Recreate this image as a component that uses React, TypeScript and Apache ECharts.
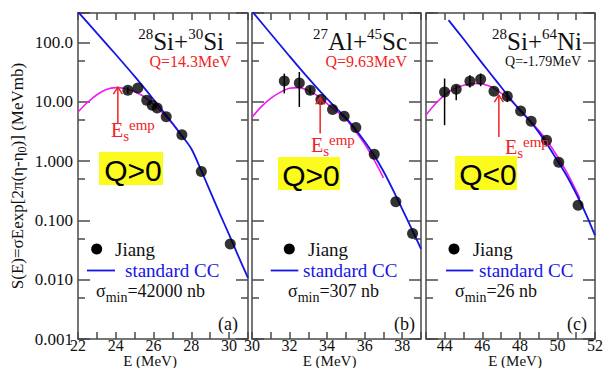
import React, { useEffect, useRef } from "react";
import * as echarts from "echarts";

// ---- panel (a): 28Si + 30Si ----
const rangeA = [22, 31];
const jiangA: [number, number][] = [
  [24.64, 15.7], [25.17, 17.2], [25.64, 10.7], [25.93, 8.8], [26.19, 7.9],
  [26.67, 5.6], [27.5, 2.78], [28.53, 0.67], [30.06, 0.04],
];
const errA: [number, number, number][] = [[24.64, 13.8, 17.6]];
const ccA: [number, number][] = [
  [22, 331], [23, 144.5], [24, 63.1], [25, 26.9], [26, 11.0], [27, 4.37],
  [27.5, 2.69], [28, 1.62], [28.5, 0.724], [29, 0.309], [29.5, 0.132],
  [30, 0.0575], [30.5, 0.0245], [31, 0.0107],
];
const fitA: [number, number][] = [
  [22, 6.76], [22.5, 9.77], [23, 13.2], [23.5, 16.2], [24, 17.4], [24.5, 16.8],
  [25, 14.8], [25.5, 12.2], [26, 9.1], [26.5, 6.46], [27, 4.27], [27.5, 2.63],
];
const arrowA: [number, number, number] = [24.11, 17.7, 4.37];

// ---- panel (b): 27Al + 45Sc ----
const rangeB = [30, 39];
const jiangB: [number, number][] = [
  [31.72, 22.6], [32.52, 20.9], [33.1, 15.7], [33.67, 11.0], [34.29, 7.45],
  [34.91, 5.74], [35.53, 3.7], [36.51, 1.31], [37.66, 0.206], [38.55, 0.06],
];
const errB: [number, number, number][] = [
  [31.72, 13.9, 30.0], [32.52, 8.2, 32.0], [33.1, 13.5, 18.0],
];
const ccB: [number, number][] = [
  [30, 339], [31, 141], [32, 58.9], [33, 25.1], [34, 11.2], [35, 5.37],
  [35.5, 3.47], [36, 2.14], [36.5, 1.26], [37, 0.676], [37.5, 0.331],
  [38, 0.155], [38.5, 0.0724], [39, 0.0331],
];
const fitB: [number, number][] = [
  [30, 5.5], [30.5, 8.32], [31, 11.5], [31.5, 14.5], [32, 17.0], [32.5, 17.4],
  [33, 15.5], [33.5, 12.6], [34, 9.33], [34.5, 6.92], [35, 5.13], [35.5, 3.24],
  [36, 1.95], [36.5, 1.05], [37, 0.525],
];
const arrowB: [number, number, number] = [33.63, 11.9, 2.93];

// ---- panel (c): 28Si + 64Ni ----
const rangeC = [43, 52];
const jiangC: [number, number][] = [
  [43.99, 14.7], [44.61, 16.4], [45.34, 22.3], [45.91, 24.1], [46.62, 15.1],
  [47.33, 12.5], [48.04, 7.05], [48.6, 4.73], [49.42, 2.26], [50.07, 0.96],
  [51.1, 0.181],
];
const errC: [number, number, number][] = [
  [43.99, 4.05, 24.8], [44.61, 10.7, 19.1], [45.34, 17.5, 28.2],
  [45.91, 18.4, 30.1], [47.33, 10.0, 14.7],
];
const ccC: [number, number][] = [
  [44.2, 240], [45, 115], [46, 44.7], [46.5, 28.2], [47, 17.8], [47.5, 11.2],
  [48, 7.24], [48.5, 4.9], [49, 3.09], [49.5, 1.82], [50, 1.02], [50.5, 0.562],
  [51, 0.282], [51.5, 0.132], [52, 0.0562],
];
const fitC: [number, number][] = [
  [43, 6.03], [43.5, 9.33], [44, 13.2], [44.5, 16.6], [45, 19.1], [45.5, 20.4],
  [46, 20.0], [46.5, 17.8], [47, 14.1], [47.5, 10.7], [48, 7.41], [48.5, 5.01],
  [49, 3.31], [49.5, 2.09], [50, 1.2], [50.5, 0.646], [51, 0.316], [51.2, 0.234],
];
const arrowC: [number, number, number] = [46.88, 13.0, 2.57];

// ---- axis ----
const yRange = [0.001, 316.2];
const yTickLabels: Record<string, string> = {
  "100": "100.0", "10": "10.00", "1": "1.000", "0.1": "0.100", "0.01": "0.010", "0.001": "0.001",
};

const SERIF = "Liberation Serif";
const SANS = "Liberation Sans";
const BLUE = "#1414e6";
const MAGENTA = "#f01cf0";
const RED = "#f02424";
const FRAME = "#4a4a4a";

const grids = [
  { left: 78, width: 170 },
  { left: 252, width: 169 },
  { left: 426, width: 169 },
];

const panels = [
  { range: rangeA, jiang: jiangA, err: errA, cc: ccA, fit: fitA, arrow: arrowA },
  { range: rangeB, jiang: jiangB, err: errB, cc: ccB, fit: fitB, arrow: arrowB },
  { range: rangeC, jiang: jiangC, err: errC, cc: ccC, fit: fitC, arrow: arrowC },
];

function buildOption() {
  const tickStyle = { color: FRAME, width: 1.5 };
  const xAxis: any[] = [];
  const yAxis: any[] = [];
  const series: any[] = [];

  panels.forEach((p, g) => {
    xAxis.push({
      gridIndex: g, type: "value", min: p.range[0], max: p.range[1], interval: 1,
      position: "bottom",
      axisLine: { show: false }, splitLine: { show: false },
      axisTick: { inside: true, length: 7, lineStyle: tickStyle },
      axisLabel: {
        formatter: (v: number) => (v % 2 === 0 ? String(v) : ""),
        fontFamily: SERIF, fontSize: 16, lineHeight: 13, color: "#111", margin: 0,
      },
      name: "E (MeV)", nameLocation: "middle", nameGap: 16, nameMoveOverlap: false,
      nameTextStyle: {
        fontFamily: SERIF, fontSize: 15, lineHeight: 12, color: "#111",
        padding: g === 0 ? [0, 26, 0, 0] : g === 1 ? [0, 14, 0, 0] : [0, 0, 0, 9],
      },
    });
    xAxis.push({
      gridIndex: g, type: "value", min: p.range[0], max: p.range[1], interval: 1,
      position: "top",
      axisLine: { show: false }, splitLine: { show: false },
      axisTick: { inside: true, length: 7, lineStyle: tickStyle },
      axisLabel: { show: false },
    });
    // decade ticks, left and right
    ["left", "right"].forEach((side) => {
      yAxis.push({
        gridIndex: g, type: "log", logBase: 10, min: yRange[0], max: yRange[1], position: side,
        axisLine: { show: false }, splitLine: { show: false },
        axisTick: { inside: true, length: 12, lineStyle: tickStyle },
        axisLabel: g === 0 && side === "left"
          ? {
              fontFamily: SERIF, fontSize: 17, color: "#111", margin: 5,
              formatter: (v: number) => {
                const k = Math.round(Math.log10(v));
                if (Math.abs(Math.log10(v) - k) > 1e-6) return "";
                return yTickLabels[String(Math.pow(10, k))] ?? "";
              },
            }
          : { show: false },
      });
    });
    // ticks at 5 x 10^n: an axis spanning twice the values puts its decades there
    ["left", "right"].forEach((side) => {
      yAxis.push({
        gridIndex: g, type: "log", logBase: 10, min: yRange[0] * 2, max: yRange[1] * 2, position: side,
        axisLine: { show: false }, splitLine: { show: false },
        axisTick: { inside: true, length: 7, lineStyle: tickStyle },
        axisLabel: { show: false },
      });
    });

    const xi = 2 * g;
    const yi = 4 * g;
    series.push({
      type: "line", name: "standard CC", xAxisIndex: xi, yAxisIndex: yi, data: p.cc,
      smooth: 0.3, symbol: "none", lineStyle: { color: BLUE, width: 1.8 }, z: 3,
    });
    series.push({
      type: "line", name: "fit", xAxisIndex: xi, yAxisIndex: yi, data: p.fit,
      smooth: 0.3, symbol: "none", lineStyle: { color: MAGENTA, width: 1.6 }, z: 2,
    });
    series.push({
      type: "custom", name: "err", xAxisIndex: xi, yAxisIndex: yi, data: p.err,
      encode: { x: 0, y: [1, 2] }, z: 4,
      renderItem: (_params: any, api: any) => {
        const a = api.coord([api.value(0), api.value(1)]);
        const b = api.coord([api.value(0), api.value(2)]);
        return {
          type: "line", shape: { x1: a[0], y1: a[1], x2: b[0], y2: b[1] },
          style: { stroke: "#000", lineWidth: 1.5 },
        };
      },
    });
    series.push({
      type: "scatter", name: "Jiang", xAxisIndex: xi, yAxisIndex: yi, data: p.jiang,
      symbol: "circle", symbolSize: 11, itemStyle: { color: "#000" }, z: 5,
    });
    series.push({
      type: "custom", name: "Es", xAxisIndex: xi, yAxisIndex: yi, data: [p.arrow],
      encode: { x: 0, y: [1, 2] }, z: 6,
      renderItem: (_params: any, api: any) => {
        const tip = api.coord([api.value(0), api.value(1)]);
        const base = api.coord([api.value(0), api.value(2)]);
        return {
          type: "group",
          children: [
            { type: "line", shape: { x1: base[0], y1: base[1], x2: tip[0], y2: tip[1] }, style: { stroke: RED, lineWidth: 1.5 } },
            {
              type: "polyline",
              shape: { points: [[tip[0] - 4.5, tip[1] + 7], [tip[0], tip[1]], [tip[0] + 4.5, tip[1] + 7]] },
              style: { stroke: RED, lineWidth: 1.5, fill: "none" },
            },
          ],
        };
      },
    });
  });

  const richTitle = {
    b: { fontFamily: SERIF, fontSize: 25, lineHeight: 30, fill: "#111" },
    sup: { fontFamily: SERIF, fontSize: 15, lineHeight: 14, verticalAlign: "top", fill: "#111" },
  };
  const richEs = {
    e: { fontFamily: SERIF, fontSize: 20, lineHeight: 26, fill: RED },
    sub: { fontFamily: SERIF, fontSize: 15, lineHeight: 13, verticalAlign: "bottom", fill: RED },
    sup: { fontFamily: SERIF, fontSize: 15, lineHeight: 13, verticalAlign: "top", fill: RED },
  };
  const richSigma = {
    t: { fontFamily: SERIF, fontSize: 18, lineHeight: 26, fill: "#111" },
    sub: { fontFamily: SERIF, fontSize: 14, lineHeight: 14, verticalAlign: "bottom", fill: "#111" },
  };

  const titles = [
    { x: 224, text: "{sup|28}{b|Si+}{sup|30}{b|Si}", q: "Q=14.3MeV", qx: 231, qColor: RED, qSize: 16 },
    { x: 407, text: "{sup|27}{b|Al+}{sup|45}{b|Sc}", q: "Q=9.63MeV", qx: 407, qColor: RED, qSize: 16 },
    { x: 582, text: "{sup|28}{b|Si+}{sup|64}{b|Ni}", q: "Q=-1.79MeV", qx: 581, qColor: "#111", qSize: 14 },
  ];
  const boxes = [
    { x: 99, y: 152, w: 64, h: 33, text: "Q>0" },
    { x: 278, y: 157, w: 62, h: 33, text: "Q>0" },
    { x: 455, y: 156, w: 62, h: 34, text: "Q<0" },
  ];
  const esLabels = [
    { x: 111, y: 117 },
    { x: 311, y: 132 },
    { x: 505, y: 134 },
  ];
  const legends = [
    { dot: 96.7, jiang: 115, l0: 87, l1: 115, cc: 125, sx: 96, sigma: "=42000 nb", tag: "(a)", tx: 238 },
    { dot: 289.3, jiang: 308, l0: 270.7, l1: 298.3, cc: 303, sx: 288, sigma: "=307 nb", tag: "(b)", tx: 415 },
    { dot: 454, jiang: 472.7, l0: 446, l1: 473.3, cc: 479, sx: 455, sigma: "=26 nb", tag: "(c)", tx: 587 },
  ];

  const graphic: any[] = [];
  titles.forEach((t) => {
    graphic.push({
      type: "text", x: t.x, y: 26, z: 10,
      style: { text: t.text, rich: richTitle, align: "right", verticalAlign: "top" },
    });
    graphic.push({
      type: "text", x: t.qx, y: 61, z: 10,
      style: { text: t.q, fontFamily: SERIF, fontSize: t.qSize, fill: t.qColor, align: "right", verticalAlign: "middle" },
    });
  });
  boxes.forEach((b) => {
    graphic.push({ type: "rect", shape: { x: b.x, y: b.y, width: b.w, height: b.h }, style: { fill: "#fbfb1e" }, z: 1 });
    graphic.push({
      type: "text", x: b.x + b.w / 2 + 2, y: b.y + b.h / 2 + 1.5, z: 2,
      style: { text: b.text, fontFamily: SANS, fontSize: 30, fill: "#000", align: "center", verticalAlign: "middle" },
    });
  });
  esLabels.forEach((e) => {
    graphic.push({
      type: "text", x: e.x, y: e.y, z: 10,
      style: { text: "{e|E}{sub|s}{sup|emp}", rich: richEs, align: "left", verticalAlign: "top" },
    });
  });
  legends.forEach((l) => {
    graphic.push({ type: "circle", shape: { cx: l.dot, cy: 249, r: 5.5 }, style: { fill: "#000" }, z: 10 });
    graphic.push({
      type: "text", x: l.jiang, y: 249, z: 10,
      style: { text: "Jiang", fontFamily: SERIF, fontSize: 19, fill: "#111", align: "left", verticalAlign: "middle" },
    });
    graphic.push({ type: "line", shape: { x1: l.l0, y1: 270.5, x2: l.l1, y2: 270.5 }, style: { stroke: BLUE, lineWidth: 1.8 }, z: 10 });
    graphic.push({
      type: "text", x: l.cc, y: 270.5, z: 10,
      style: { text: "standard CC", fontFamily: SERIF, fontSize: 19, fill: BLUE, align: "left", verticalAlign: "middle" },
    });
    graphic.push({
      type: "text", x: l.sx, y: 278, z: 10,
      style: { text: "{t|σ}{sub|min}{t|" + l.sigma + "}", rich: richSigma, align: "left", verticalAlign: "top" },
    });
    graphic.push({
      type: "text", x: l.tx, y: 324, z: 10,
      style: { text: l.tag, fontFamily: SERIF, fontSize: 18, fill: "#111", align: "right", verticalAlign: "middle" },
    });
  });
  graphic.push({
    type: "text", x: 17, y: 176, rotation: Math.PI / 2, z: 10,
    style: {
      text: "{t|S(E)=σEexp[2π(η-η}{sub|0}{t|)] (MeVmb)}",
      rich: {
        t: { fontFamily: SERIF, fontSize: 17, lineHeight: 22, fill: "#111" },
        sub: { fontFamily: SERIF, fontSize: 12, lineHeight: 12, verticalAlign: "bottom", fill: "#111" },
      },
      align: "center", verticalAlign: "middle",
    },
  });

  return {
    animation: false,
    backgroundColor: "#fff",
    grid: grids.map((g) => ({
      left: g.left, width: g.width, top: 13, height: 326,
      outerBoundsMode: "none", containLabel: false,
      show: true, borderColor: FRAME, borderWidth: 1.5, backgroundColor: "transparent",
    })),
    xAxis, yAxis, series, graphic,
  };
}

export default function App() {
  const ref = useRef<HTMLDivElement>(null);
  useEffect(() => {
    if (!ref.current) return;
    const chart = echarts.init(ref.current, undefined, { renderer: "svg" });
    chart.setOption(buildOption() as any);
    return () => chart.dispose();
  }, []);
  return <div ref={ref} style={{ position: "fixed", left: 0, top: 0, width: 604, height: 368 }} />;
}
